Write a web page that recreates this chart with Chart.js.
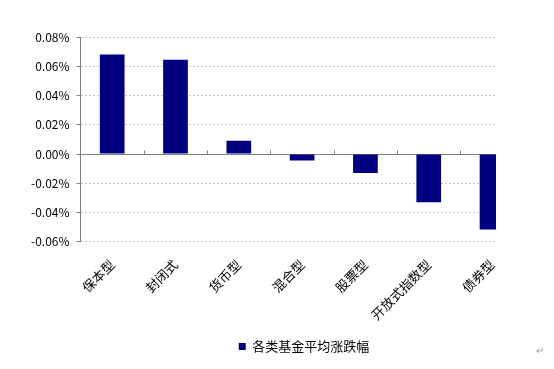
<!DOCTYPE html>
<html>
<head>
<meta charset="utf-8">
<script src="https://cdn.jsdelivr.net/npm/chart.js@4.4.1/dist/chart.umd.min.js"></script>
<style>
  html, body { margin: 0; padding: 0; background: #fff; }
  #wrap { position: relative; width: 554px; height: 369px; }
  #mark { position: absolute; left: 536px; top: 342px; font: 10px "Noto Sans CJK SC", sans-serif; color: #999; }
</style>
</head>
<body>
<div id="wrap">
  <canvas id="c" width="554" height="369"></canvas>
  <span id="mark">↵</span>
</div>
<script>
// ---- data ----
const categories = ['保本型', '封闭式', '货币型', '混合型', '股票型', '开放式指数型', '债券型'];
const seriesName = '各类基金平均涨跌幅';
const seriesValues = [0.068, 0.0645, 0.009, -0.0045, -0.013, -0.033, -0.0515];
const yMin = -0.06, yMax = 0.08, yStep = 0.02;

const FONT = '"Noto Sans CJK SC", "Noto Sans", sans-serif';

const catTicks = {
  id: 'catTicks',
  afterDatasetsDraw(chart) {
    const x = chart.scales.x, y = chart.scales.y, ctx = chart.ctx;
    const y0 = Math.round(y.getPixelForValue(0)) + 0.5;
    ctx.save();
    ctx.strokeStyle = '#808080';
    ctx.lineWidth = 1;
    ctx.beginPath();
    for (let i = 0; i < categories.length - 1; i++) {
      const px = Math.round(x.getPixelForValue(i + 0.5)) + 0.5;
      ctx.moveTo(px, y0);
      ctx.lineTo(px, y0 - 4);
    }
    ctx.stroke();
    ctx.restore();
  }
};

const legendShift = {
  id: 'legendShift',
  afterLayout(chart) {
    const l = chart.legend;
    l.left += 44; l.right += 44;
  }
};

new Chart(document.getElementById('c'), {
  type: 'bar',
  data: {
    datasets: [{
      label: seriesName,
      data: seriesValues.map((v, i) => ({ x: i, y: v })),
      backgroundColor: '#000080',
      borderWidth: 0,
      categoryPercentage: 1,
      barPercentage: 0.39
    }]
  },
  options: {
    responsive: false,
    animation: false,
    devicePixelRatio: 1,
    layout: { padding: { left: 24, right: 58, top: 37, bottom: 6 } },
    plugins: {
      tooltip: { enabled: false },
      legend: {
        position: 'bottom',
        labels: {
          boxWidth: 7, boxHeight: 7, padding: 2,
          color: '#000',
          font: { family: FONT, size: 13 }
        }
      }
    },
    scales: {
      x: {
        type: 'linear',
        offset: false,
        min: -0.5,
        max: 6.0625,
        grid: { display: false, drawTicks: false },
        border: { display: false },
        ticks: {
          stepSize: 1,
          autoSkip: false,
          includeBounds: false,
          maxRotation: 45,
          minRotation: 45,
          padding: 15,
          color: '#000',
          font: { family: FONT, size: 13 },
          callback: (v) => Number.isInteger(v) && categories[v] !== undefined ? categories[v] : ''
        }
      },
      y: {
        min: yMin,
        max: yMax,
        grid: {
          color: (c) => (c.tick && Math.abs(c.tick.value) < 1e-9) ? '#808080' : '#c4c4c4',
          tickColor: '#808080',
          tickLength: 4,
          tickBorderDash: []
        },
        border: {
          display: true,
          color: '#808080',
          width: 1,
          dash: (c) => (c.tick && Math.abs(c.tick.value) < 1e-9) ? [] : [2, 2]
        },
        ticks: {
          stepSize: yStep,
          padding: 7,
          color: '#000',
          font: { family: FONT, size: 12 },
          callback: (v) => (Math.abs(v) < 1e-9 ? 0 : v).toFixed(2) + '%'
        }
      }
    }
  },
  plugins: [catTicks, legendShift]
});
</script>
</body>
</html>
